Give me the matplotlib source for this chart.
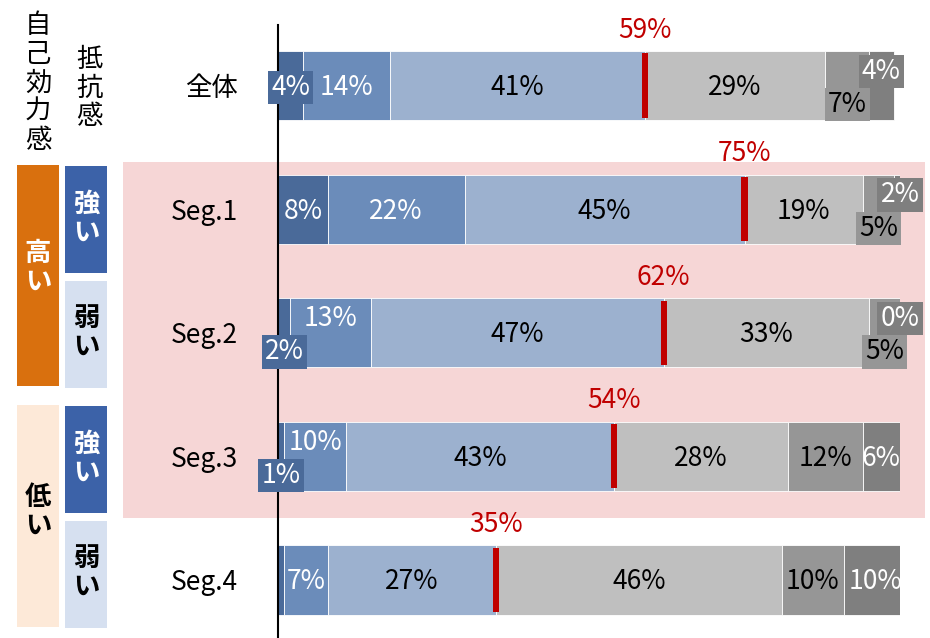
import numpy as np
import matplotlib.pyplot as plt
from matplotlib.patches import Rectangle

plt.rcParams['font.family'] = ['Noto Sans CJK JP', 'DejaVu Sans']

rows = ['全体', 'Seg.1', 'Seg.2', 'Seg.3', 'Seg.4']
vals = [
    [4, 14, 41, 29, 7, 4],
    [8, 22, 45, 19, 5, 2],
    [2, 13, 47, 33, 5, 0],
    [1, 10, 43, 28, 12, 6],
    [1, 7, 27, 46, 10, 10],
]
colors = ['#4a6a99', '#6b8cba', '#9cb1cf', '#bfbfbf', '#969696', '#7f7f7f']
txt_colors = ['white', 'white', 'black', 'black', 'black', 'white']

# labels that sit off the bar centre: (row, segment) -> vertical shift in row units
shifted = {
    (0, 5): -0.13, (0, 4): 0.14,
    (1, 5): -0.13, (1, 4): 0.14,
    (2, 0): 0.14, (2, 1): -0.13, (2, 5): -0.13, (2, 4): 0.14,
    (3, 0): 0.14, (3, 1): -0.13,
}
hidden = {(4, 0)}

fig = plt.figure(figsize=(9.3, 6.38), dpi=100)
W, H = 930, 638

# background layer in pixel coords for the shaded block and side labels
bg = fig.add_axes([0, 0, 1, 1], zorder=0)
bg.set_xlim(0, W)
bg.set_ylim(H, 0)
bg.axis('off')

def box(x0, y0, x1, y1, color):
    bg.add_patch(Rectangle((x0, y0), x1 - x0, y1 - y0, facecolor=color, edgecolor='none'))

def vtext(x, y, s, **kw):
    bg.text(x, y, '\n'.join(s), ha='center', va='center', linespacing=1.08, **kw)

box(123, 162, 925, 518, '#f6d6d6')
box(17, 165, 59, 386, '#d9700e')
box(17, 405, 59, 627, '#fde9d8')
box(65, 166, 107, 273, '#3c62a8')
box(65, 281, 107, 388, '#d6e0f0')
box(65, 406, 107, 513, '#3c62a8')
box(65, 521, 107, 628, '#d6e0f0')

vtext(38, 83, '自己効力感', fontsize=19)
vtext(89, 88, '抵抗感', fontsize=19)
vtext(38, 268, '高い', fontsize=19, color='white', fontweight='bold')
vtext(38, 512, '低い', fontsize=19, color='black', fontweight='bold')
for yc, c in [(219, 'white'), (333, 'black'), (459, 'white'), (573, 'black')]:
    vtext(86, yc, '強い' if c == 'white' else '弱い', fontsize=19, color=c, fontweight='bold')

# main bar axes
ax = fig.add_axes([278 / W, 0, 622 / W, (H - 25) / H], zorder=1)
ax.set_facecolor('none')
ax.set_xlim(0, 100)
ax.set_ylim(4.47, -0.49)
for s in ['top', 'right', 'bottom']:
    ax.spines[s].set_visible(False)
ax.spines['left'].set_color('black')
ax.spines['left'].set_linewidth(1.5)
ax.set_xticks([])
ax.set_yticks(range(len(rows)))
ax.set_yticklabels(rows, fontsize=19)
ax.tick_params(axis='y', length=0, pad=29)

bh = 0.56
for i, row in enumerate(vals):
    left = 0
    for j, v in enumerate(row):
        ax.barh(i, v, left=left, height=bh, color=colors[j], edgecolor='white', linewidth=0.6)
        if (i, j) not in hidden:
            cx = left + v / 2
            dy = shifted.get((i, j), 0)
            kw = {}
            if dy != 0 or (j == 0 and v < 5):
                kw['bbox'] = dict(boxstyle='square,pad=0.12', facecolor=colors[j], edgecolor='none')
            ax.text(cx, i + dy + 0.015, f'{v}%', ha='center', va='center', fontsize=19,
                    color=txt_colors[j], clip_on=False, zorder=5, **kw)
        left += v
    cum = sum(row[:3])
    ax.barh(i, 1.0, left=cum - 0.5, height=bh - 0.04, color='#c00000', zorder=4)
    ax.text(cum, i - bh / 2 - 0.06, f'{cum}%', ha='center', va='bottom', fontsize=19,
            color='#c00000', clip_on=False)

fig.savefig('out.png', dpi=100)
